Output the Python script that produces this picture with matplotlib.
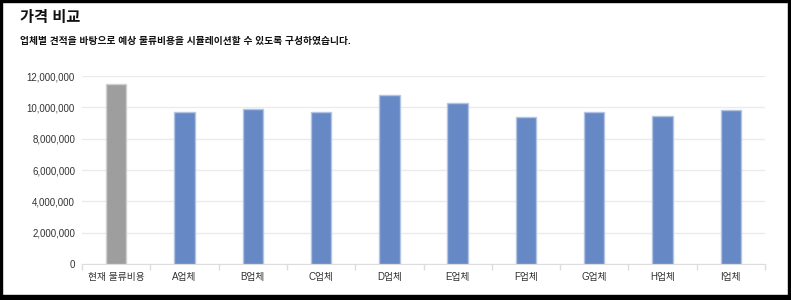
import matplotlib.pyplot as plt
from matplotlib.patches import Rectangle
from matplotlib.ticker import FuncFormatter, FixedLocator

plt.rcParams['font.family'] = ['Liberation Sans', 'Noto Sans CJK KR', 'DejaVu Sans']

# ---------데이터-----------
categories = ["현재 물류비용", "A업체", "B업체", "C업체", "D업체",
              "E업체", "F업체", "G업체", "H업체", "I업체"]
costs = [11500000, 9700000, 9900000, 9700000, 10800000,
         10300000, 9400000, 9700000, 9450000, 9800000]
bar_colors = ["#9e9e9e"] + ["#6689c6"] * 9
edge_colors = ["#d0d0d0"] + ["#b3c4e3"] * 9
y_ticks = [0, 2000000, 4000000, 6000000, 8000000, 10000000, 12000000]

fig = plt.figure(figsize=(7.91, 3.0), dpi=100)
ax = fig.add_axes([82 / 791, 1 - 264 / 300, 683 / 791, 188 / 300])

x = range(len(categories))
ax.bar(x, costs, width=0.3, color=bar_colors, edgecolor=edge_colors, linewidth=1, zorder=3)

ax.set_xlim(-0.5, len(categories) - 0.5)
ax.set_ylim(0, 12000000)
ax.set_yticks(y_ticks)
ax.yaxis.set_major_formatter(FuncFormatter(lambda v, p: f"{int(v):,}"))
ax.grid(axis="y", color="#ebebeb", linewidth=1, zorder=0)

ax.set_xticks(list(x))
ax.set_xticklabels(categories, fontsize=7, color="#333333")
ax.xaxis.set_minor_locator(FixedLocator([i - 0.5 for i in range(len(categories) + 1)]))
ax.tick_params(axis="x", which="major", length=0, pad=6)
ax.tick_params(axis="x", which="minor", length=4, color="#dddddd", width=1)
ax.tick_params(axis="y", length=0, labelsize=7, labelcolor="#333333", pad=5)

for s in ["top", "right", "left"]:
    ax.spines[s].set_visible(False)
ax.spines["bottom"].set_color("#dddddd")

# ---------제목-----------
fig.text(20 / 791, 1 - 18 / 300, "가격 비교", fontsize=11, fontweight="bold",
         va="center", ha="left", color="#111111")
fig.text(20 / 791, 1 - 41 / 300, "업체별 견적을 바탕으로 예상 물류비용을 시뮬레이션할 수 있도록 구성하였습니다.",
         fontsize=7, fontweight="bold", va="center", ha="left", color="#111111")

# ---------테두리-----------
fig.patches.append(Rectangle((0, 0), 2 / 791, 1, transform=fig.transFigure, color="black", zorder=10))
fig.patches.append(Rectangle((0, 1 - 2 / 300), 1, 2 / 300, transform=fig.transFigure, color="black", zorder=10))
fig.patches.append(Rectangle((1 - 3 / 791, 0), 3 / 791, 1, transform=fig.transFigure, color="black", zorder=10))
fig.patches.append(Rectangle((0, 0), 1, 5 / 300, transform=fig.transFigure, color="black", zorder=10))

fig.savefig("out.png", dpi=100)
